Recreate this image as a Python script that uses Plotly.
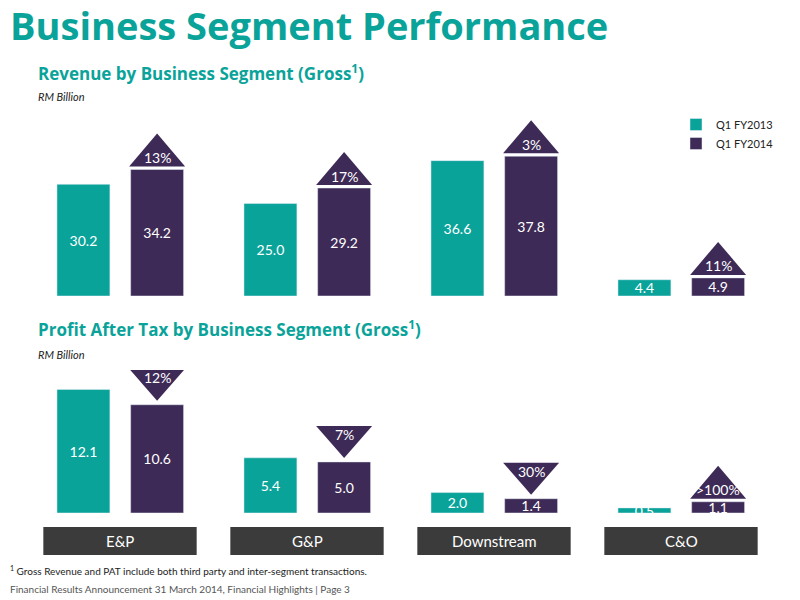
import plotly.graph_objects as go

categories = ["E&P", "G&P", "Downstream", "C&O"]
rev_2013 = [30.2, 25.0, 36.6, 4.4]
rev_2014 = [34.2, 29.2, 37.8, 4.9]
rev_change = ["13%", "17%", "3%", "11%"]
rev_dir = ["up", "up", "up", "up"]
pat_2013 = [12.1, 5.4, 2.0, 0.5]
pat_2014 = [10.6, 5.0, 1.4, 1.1]
pat_change = ["12%", "7%", "30%", ">100%"]
pat_dir = ["down", "down", "down", "up"]

TEAL = "#0aa39a"
PURPLE = "#3e2a56"
FONT = "Lato"
HFONT = "Open Sans"
OFF = 8  # page body margin
def px(x): return max(0, (x - OFF) / 800)
def py(y): return (600 - (y - OFF)) / 600

xr = [(OFF - 120) / 187, (800 + OFF - 120) / 187]
xs = list(range(len(categories)))
W = 0.283

fig = go.Figure()
for (y13, y14, yax, show) in [(rev_2013, rev_2014, "y", True), (pat_2013, pat_2014, "y2", False)]:
    xa = "x" if yax == "y" else "x2"
    fig.add_trace(go.Bar(x=xs, y=y13, name="Q1 FY2013", marker_color=TEAL, width=W, offset=-0.337,
                         text=[f"{v:.1f}" for v in y13], textposition="inside", insidetextanchor="middle",
                         textfont=dict(color="white", size=14, family=FONT), xaxis=xa, yaxis=yax,
                         showlegend=show, cliponaxis=False))
    fig.add_trace(go.Bar(x=xs, y=y14, name="Q1 FY2014", marker_color=PURPLE, width=W, offset=0.057,
                         text=[f"{v:.1f}" for v in y14], textposition="inside", insidetextanchor="middle",
                         textfont=dict(color="white", size=14, family=FONT), xaxis=xa, yaxis=yax,
                         showlegend=show, cliponaxis=False))

shapes = []
annotations = []

def tri(xref, yref, xc, yv, label, d):
    if d == "up":
        path = "M-28,3 L28,3 L0,36 Z"
        ty = 12
    else:
        path = "M-28,36 L28,36 L0,4 Z"
        ty = 27
    shapes.append(dict(type="path", xref=xref, yref=yref, xsizemode="pixel", ysizemode="pixel",
                       xanchor=xc, yanchor=yv, path=path, fillcolor=PURPLE, line=dict(width=0)))
    annotations.append(dict(x=xc, y=yv, xref=xref, yref=yref, text=label, showarrow=False,
                            yshift=ty, font=dict(color="white", size=14, family=FONT)))

for i in xs:
    tri("x", "y", i + 0.057 + W / 2, rev_2014[i], rev_change[i], rev_dir[i])
    tri("x2", "y2", i + 0.057 + W / 2, pat_2014[i], pat_change[i], pat_dir[i])
    shapes.append(dict(type="rect", xref="x2", yref="paper", x0=i - 0.41, x1=i + 0.41,
                       y0=py(555), y1=py(527), fillcolor="#3b3b3b", line=dict(width=0)))
    annotations.append(dict(x=i, y=py(541), xref="x2", yref="paper", text=categories[i],
                            yanchor="middle", xanchor="center",
                            showarrow=False, font=dict(color="white", size=15, family=FONT)))

def txt(x, y, s, size, color, bold=False, italic=False, family=FONT):
    annotations.append(dict(x=px(x), y=py(y), xref="paper", yref="paper", xanchor="left",
                            yanchor="middle", showarrow=False, text=s,
                            font=dict(size=size, color=color, family=family,
                                      weight="bold" if bold else "normal",
                                      style="italic" if italic else "normal")))

txt(4, 25, "Business Segment Performance", 38, TEAL, bold=True, family=HFONT)
txt(36, 72, "Revenue by Business Segment (Gross<sup>1</sup>)", 17, TEAL, bold=True, family=HFONT)
txt(36, 97, "RM Billion", 11, "#222", italic=True)
txt(36, 328, "Profit After Tax by Business Segment (Gross<sup>1</sup>)", 17, TEAL, bold=True, family=HFONT)
txt(36, 354, "RM Billion", 11, "#222", italic=True)
txt(4, 570, "<sup>1</sup> Gross Revenue and PAT include both third party and inter-segment transactions.", 10, "#222")
txt(4, 589, "Financial Results Announcement 31 March 2014, Financial Highlights | Page 3", 10, "#555")

ax = dict(visible=False, fixedrange=True)
fig.update_layout(
    width=800, height=600, margin=dict(l=0, r=0, t=0, b=0),
    plot_bgcolor="white", paper_bgcolor="white", font=dict(family=FONT),
    xaxis=dict(ax, range=xr, domain=[0, 1]),
    xaxis2=dict(ax, range=xr, domain=[0, 1], anchor="y2"),
    yaxis=dict(ax, range=[0, 55.7], domain=[py(296), py(90)]),
    yaxis2=dict(ax, range=[0, 14], domain=[py(513), py(370)], anchor="x2"),
    legend=dict(x=px(676), y=py(110), xanchor="left", yanchor="top",
                font=dict(size=11, family=FONT, color="#222"), itemwidth=30, tracegroupgap=8),
    uniformtext=dict(minsize=14, mode="show"),
    shapes=shapes, annotations=annotations, showlegend=True,
)
fig.write_html("out.html")
